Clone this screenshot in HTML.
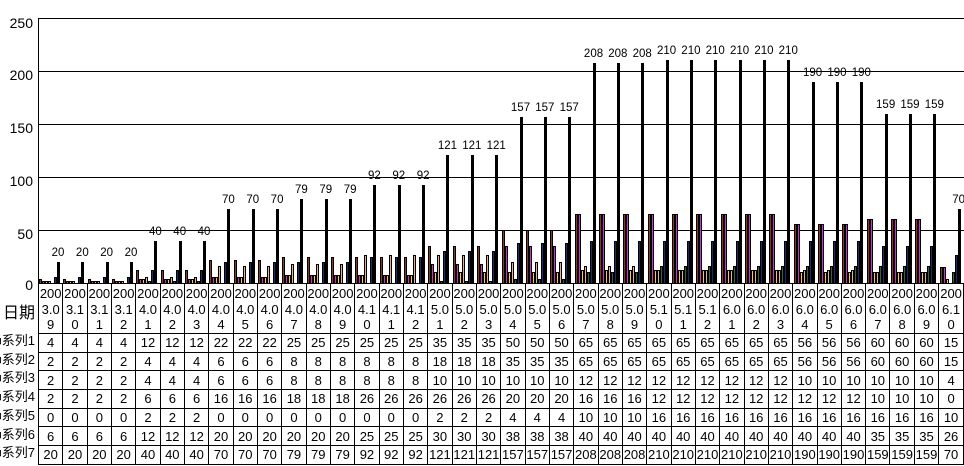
<!DOCTYPE html>
<html><head><meta charset="utf-8"><style>
body{margin:0;width:964px;height:466px;overflow:hidden;background:#fff;font-family:"Liberation Sans","Noto Sans CJK SC",sans-serif;position:relative}
.yl{position:absolute;left:0;width:33px;text-align:right;font-size:14px;line-height:14px}
.gl{position:absolute;left:38px;width:926px;height:1px;background:#000}
#plot{position:absolute;left:38px;top:18px;width:926px;height:265px;border-left:1px solid #000;box-sizing:border-box;display:grid;grid-template-columns:repeat(38,1fr)}
.c{position:relative;display:flex;align-items:flex-end;padding-left:0}
.c i{display:block;flex:0 0 3px;width:3px;box-sizing:border-box;border:1px solid #000;border-bottom:none;height:calc(var(--v)*1.06px)}
.c i.z{border:none}
.a{background:#8b3a22}.b{background:#cc33cc}.d{background:#ffcc33}.e{background:#e6b482}.f{background:#336633}.h{background:#1f2a6b}.g{background:#000}
.c span{position:absolute;left:6px;width:26px;text-align:center;font-size:11.5px;bottom:calc(var(--v)*1.06px + 3px)}
table{position:absolute;left:38px;top:283px;width:926px;border-collapse:collapse;table-layout:fixed;font-size:13px}
td{border:1px solid #000;text-align:center;padding:0;height:17.7px;line-height:17px;overflow:hidden;white-space:nowrap}
tr.hd td{height:47px;line-height:15.5px;vertical-align:top;padding-top:2px}
.lb{position:absolute;left:0;width:37px;overflow:hidden;font-size:13px;white-space:nowrap}
.lb div{position:absolute;right:2px}
</style></head><body>
<div class="yl" style="top:16px">250</div>
<div class="yl" style="top:68px">200</div>
<div class="yl" style="top:121px">150</div>
<div class="yl" style="top:174px">100</div>
<div class="yl" style="top:227px">50</div>
<div class="yl" style="top:278px">0</div>
<div class="gl" style="top:18px"></div>
<div class="gl" style="top:71px"></div>
<div class="gl" style="top:124px"></div>
<div class="gl" style="top:177px"></div>
<div class="gl" style="top:230px"></div>
<div id="plot">
<div class="c"><i class="a" style="--v:4"></i><i class="b" style="--v:2"></i><i class="d" style="--v:2"></i><i class="e" style="--v:2"></i><i class="f z" style="--v:0"></i><i class="h" style="--v:6"></i><i class="g" style="--v:20"></i><span style="--v:20">20</span></div>
<div class="c"><i class="a" style="--v:4"></i><i class="b" style="--v:2"></i><i class="d" style="--v:2"></i><i class="e" style="--v:2"></i><i class="f z" style="--v:0"></i><i class="h" style="--v:6"></i><i class="g" style="--v:20"></i><span style="--v:20">20</span></div>
<div class="c"><i class="a" style="--v:4"></i><i class="b" style="--v:2"></i><i class="d" style="--v:2"></i><i class="e" style="--v:2"></i><i class="f z" style="--v:0"></i><i class="h" style="--v:6"></i><i class="g" style="--v:20"></i><span style="--v:20">20</span></div>
<div class="c"><i class="a" style="--v:4"></i><i class="b" style="--v:2"></i><i class="d" style="--v:2"></i><i class="e" style="--v:2"></i><i class="f z" style="--v:0"></i><i class="h" style="--v:6"></i><i class="g" style="--v:20"></i><span style="--v:20">20</span></div>
<div class="c"><i class="a" style="--v:12"></i><i class="b" style="--v:4"></i><i class="d" style="--v:4"></i><i class="e" style="--v:6"></i><i class="f" style="--v:2"></i><i class="h" style="--v:12"></i><i class="g" style="--v:40"></i><span style="--v:40">40</span></div>
<div class="c"><i class="a" style="--v:12"></i><i class="b" style="--v:4"></i><i class="d" style="--v:4"></i><i class="e" style="--v:6"></i><i class="f" style="--v:2"></i><i class="h" style="--v:12"></i><i class="g" style="--v:40"></i><span style="--v:40">40</span></div>
<div class="c"><i class="a" style="--v:12"></i><i class="b" style="--v:4"></i><i class="d" style="--v:4"></i><i class="e" style="--v:6"></i><i class="f" style="--v:2"></i><i class="h" style="--v:12"></i><i class="g" style="--v:40"></i><span style="--v:40">40</span></div>
<div class="c"><i class="a" style="--v:22"></i><i class="b" style="--v:6"></i><i class="d" style="--v:6"></i><i class="e" style="--v:16"></i><i class="f z" style="--v:0"></i><i class="h" style="--v:20"></i><i class="g" style="--v:70"></i><span style="--v:70">70</span></div>
<div class="c"><i class="a" style="--v:22"></i><i class="b" style="--v:6"></i><i class="d" style="--v:6"></i><i class="e" style="--v:16"></i><i class="f z" style="--v:0"></i><i class="h" style="--v:20"></i><i class="g" style="--v:70"></i><span style="--v:70">70</span></div>
<div class="c"><i class="a" style="--v:22"></i><i class="b" style="--v:6"></i><i class="d" style="--v:6"></i><i class="e" style="--v:16"></i><i class="f z" style="--v:0"></i><i class="h" style="--v:20"></i><i class="g" style="--v:70"></i><span style="--v:70">70</span></div>
<div class="c"><i class="a" style="--v:25"></i><i class="b" style="--v:8"></i><i class="d" style="--v:8"></i><i class="e" style="--v:18"></i><i class="f z" style="--v:0"></i><i class="h" style="--v:20"></i><i class="g" style="--v:79"></i><span style="--v:79">79</span></div>
<div class="c"><i class="a" style="--v:25"></i><i class="b" style="--v:8"></i><i class="d" style="--v:8"></i><i class="e" style="--v:18"></i><i class="f z" style="--v:0"></i><i class="h" style="--v:20"></i><i class="g" style="--v:79"></i><span style="--v:79">79</span></div>
<div class="c"><i class="a" style="--v:25"></i><i class="b" style="--v:8"></i><i class="d" style="--v:8"></i><i class="e" style="--v:18"></i><i class="f z" style="--v:0"></i><i class="h" style="--v:20"></i><i class="g" style="--v:79"></i><span style="--v:79">79</span></div>
<div class="c"><i class="a" style="--v:25"></i><i class="b" style="--v:8"></i><i class="d" style="--v:8"></i><i class="e" style="--v:26"></i><i class="f z" style="--v:0"></i><i class="h" style="--v:25"></i><i class="g" style="--v:92"></i><span style="--v:92">92</span></div>
<div class="c"><i class="a" style="--v:25"></i><i class="b" style="--v:8"></i><i class="d" style="--v:8"></i><i class="e" style="--v:26"></i><i class="f z" style="--v:0"></i><i class="h" style="--v:25"></i><i class="g" style="--v:92"></i><span style="--v:92">92</span></div>
<div class="c"><i class="a" style="--v:25"></i><i class="b" style="--v:8"></i><i class="d" style="--v:8"></i><i class="e" style="--v:26"></i><i class="f z" style="--v:0"></i><i class="h" style="--v:25"></i><i class="g" style="--v:92"></i><span style="--v:92">92</span></div>
<div class="c"><i class="a" style="--v:35"></i><i class="b" style="--v:18"></i><i class="d" style="--v:10"></i><i class="e" style="--v:26"></i><i class="f" style="--v:2"></i><i class="h" style="--v:30"></i><i class="g" style="--v:121"></i><span style="--v:121">121</span></div>
<div class="c"><i class="a" style="--v:35"></i><i class="b" style="--v:18"></i><i class="d" style="--v:10"></i><i class="e" style="--v:26"></i><i class="f" style="--v:2"></i><i class="h" style="--v:30"></i><i class="g" style="--v:121"></i><span style="--v:121">121</span></div>
<div class="c"><i class="a" style="--v:35"></i><i class="b" style="--v:18"></i><i class="d" style="--v:10"></i><i class="e" style="--v:26"></i><i class="f" style="--v:2"></i><i class="h" style="--v:30"></i><i class="g" style="--v:121"></i><span style="--v:121">121</span></div>
<div class="c"><i class="a" style="--v:50"></i><i class="b" style="--v:35"></i><i class="d" style="--v:10"></i><i class="e" style="--v:20"></i><i class="f" style="--v:4"></i><i class="h" style="--v:38"></i><i class="g" style="--v:157"></i><span style="--v:157">157</span></div>
<div class="c"><i class="a" style="--v:50"></i><i class="b" style="--v:35"></i><i class="d" style="--v:10"></i><i class="e" style="--v:20"></i><i class="f" style="--v:4"></i><i class="h" style="--v:38"></i><i class="g" style="--v:157"></i><span style="--v:157">157</span></div>
<div class="c"><i class="a" style="--v:50"></i><i class="b" style="--v:35"></i><i class="d" style="--v:10"></i><i class="e" style="--v:20"></i><i class="f" style="--v:4"></i><i class="h" style="--v:38"></i><i class="g" style="--v:157"></i><span style="--v:157">157</span></div>
<div class="c"><i class="a" style="--v:65"></i><i class="b" style="--v:65"></i><i class="d" style="--v:12"></i><i class="e" style="--v:16"></i><i class="f" style="--v:10"></i><i class="h" style="--v:40"></i><i class="g" style="--v:208"></i><span style="--v:208">208</span></div>
<div class="c"><i class="a" style="--v:65"></i><i class="b" style="--v:65"></i><i class="d" style="--v:12"></i><i class="e" style="--v:16"></i><i class="f" style="--v:10"></i><i class="h" style="--v:40"></i><i class="g" style="--v:208"></i><span style="--v:208">208</span></div>
<div class="c"><i class="a" style="--v:65"></i><i class="b" style="--v:65"></i><i class="d" style="--v:12"></i><i class="e" style="--v:16"></i><i class="f" style="--v:10"></i><i class="h" style="--v:40"></i><i class="g" style="--v:208"></i><span style="--v:208">208</span></div>
<div class="c"><i class="a" style="--v:65"></i><i class="b" style="--v:65"></i><i class="d" style="--v:12"></i><i class="e" style="--v:12"></i><i class="f" style="--v:16"></i><i class="h" style="--v:40"></i><i class="g" style="--v:210"></i><span style="--v:210">210</span></div>
<div class="c"><i class="a" style="--v:65"></i><i class="b" style="--v:65"></i><i class="d" style="--v:12"></i><i class="e" style="--v:12"></i><i class="f" style="--v:16"></i><i class="h" style="--v:40"></i><i class="g" style="--v:210"></i><span style="--v:210">210</span></div>
<div class="c"><i class="a" style="--v:65"></i><i class="b" style="--v:65"></i><i class="d" style="--v:12"></i><i class="e" style="--v:12"></i><i class="f" style="--v:16"></i><i class="h" style="--v:40"></i><i class="g" style="--v:210"></i><span style="--v:210">210</span></div>
<div class="c"><i class="a" style="--v:65"></i><i class="b" style="--v:65"></i><i class="d" style="--v:12"></i><i class="e" style="--v:12"></i><i class="f" style="--v:16"></i><i class="h" style="--v:40"></i><i class="g" style="--v:210"></i><span style="--v:210">210</span></div>
<div class="c"><i class="a" style="--v:65"></i><i class="b" style="--v:65"></i><i class="d" style="--v:12"></i><i class="e" style="--v:12"></i><i class="f" style="--v:16"></i><i class="h" style="--v:40"></i><i class="g" style="--v:210"></i><span style="--v:210">210</span></div>
<div class="c"><i class="a" style="--v:65"></i><i class="b" style="--v:65"></i><i class="d" style="--v:12"></i><i class="e" style="--v:12"></i><i class="f" style="--v:16"></i><i class="h" style="--v:40"></i><i class="g" style="--v:210"></i><span style="--v:210">210</span></div>
<div class="c"><i class="a" style="--v:56"></i><i class="b" style="--v:56"></i><i class="d" style="--v:10"></i><i class="e" style="--v:12"></i><i class="f" style="--v:16"></i><i class="h" style="--v:40"></i><i class="g" style="--v:190"></i><span style="--v:190">190</span></div>
<div class="c"><i class="a" style="--v:56"></i><i class="b" style="--v:56"></i><i class="d" style="--v:10"></i><i class="e" style="--v:12"></i><i class="f" style="--v:16"></i><i class="h" style="--v:40"></i><i class="g" style="--v:190"></i><span style="--v:190">190</span></div>
<div class="c"><i class="a" style="--v:56"></i><i class="b" style="--v:56"></i><i class="d" style="--v:10"></i><i class="e" style="--v:12"></i><i class="f" style="--v:16"></i><i class="h" style="--v:40"></i><i class="g" style="--v:190"></i><span style="--v:190">190</span></div>
<div class="c"><i class="a" style="--v:60"></i><i class="b" style="--v:60"></i><i class="d" style="--v:10"></i><i class="e" style="--v:10"></i><i class="f" style="--v:16"></i><i class="h" style="--v:35"></i><i class="g" style="--v:159"></i><span style="--v:159">159</span></div>
<div class="c"><i class="a" style="--v:60"></i><i class="b" style="--v:60"></i><i class="d" style="--v:10"></i><i class="e" style="--v:10"></i><i class="f" style="--v:16"></i><i class="h" style="--v:35"></i><i class="g" style="--v:159"></i><span style="--v:159">159</span></div>
<div class="c"><i class="a" style="--v:60"></i><i class="b" style="--v:60"></i><i class="d" style="--v:10"></i><i class="e" style="--v:10"></i><i class="f" style="--v:16"></i><i class="h" style="--v:35"></i><i class="g" style="--v:159"></i><span style="--v:159">159</span></div>
<div class="c"><i class="a" style="--v:15"></i><i class="b" style="--v:15"></i><i class="d" style="--v:4"></i><i class="e z" style="--v:0"></i><i class="f" style="--v:10"></i><i class="h" style="--v:26"></i><i class="g" style="--v:70"></i><span style="--v:70">70</span></div>
</div>
<div class="lb" style="top:283px;height:48px"><div style="top:16px;font-size:16px">日期</div></div>
<div class="lb" style="top:331px;height:131px;line-height:18.7px"><div style="top:1px">■系列1<br>■系列2<br>■系列3<br>■系列4<br>■系列5<br>■系列6<br>■系列7</div></div>
<table>
<tr class="hd"><td>200<br>3.0<br>9</td><td>200<br>3.1<br>0</td><td>200<br>3.1<br>1</td><td>200<br>3.1<br>2</td><td>200<br>4.0<br>1</td><td>200<br>4.0<br>2</td><td>200<br>4.0<br>3</td><td>200<br>4.0<br>4</td><td>200<br>4.0<br>5</td><td>200<br>4.0<br>6</td><td>200<br>4.0<br>7</td><td>200<br>4.0<br>8</td><td>200<br>4.0<br>9</td><td>200<br>4.1<br>0</td><td>200<br>4.1<br>1</td><td>200<br>4.1<br>2</td><td>200<br>5.0<br>1</td><td>200<br>5.0<br>2</td><td>200<br>5.0<br>3</td><td>200<br>5.0<br>4</td><td>200<br>5.0<br>5</td><td>200<br>5.0<br>6</td><td>200<br>5.0<br>7</td><td>200<br>5.0<br>8</td><td>200<br>5.0<br>9</td><td>200<br>5.1<br>0</td><td>200<br>5.1<br>1</td><td>200<br>5.1<br>2</td><td>200<br>6.0<br>1</td><td>200<br>6.0<br>2</td><td>200<br>6.0<br>3</td><td>200<br>6.0<br>4</td><td>200<br>6.0<br>5</td><td>200<br>6.0<br>6</td><td>200<br>6.0<br>7</td><td>200<br>6.0<br>8</td><td>200<br>6.0<br>9</td><td>200<br>6.1<br>0</td></tr>
<tr><td>4</td><td>4</td><td>4</td><td>4</td><td>12</td><td>12</td><td>12</td><td>22</td><td>22</td><td>22</td><td>25</td><td>25</td><td>25</td><td>25</td><td>25</td><td>25</td><td>35</td><td>35</td><td>35</td><td>50</td><td>50</td><td>50</td><td>65</td><td>65</td><td>65</td><td>65</td><td>65</td><td>65</td><td>65</td><td>65</td><td>65</td><td>56</td><td>56</td><td>56</td><td>60</td><td>60</td><td>60</td><td>15</td></tr>
<tr><td>2</td><td>2</td><td>2</td><td>2</td><td>4</td><td>4</td><td>4</td><td>6</td><td>6</td><td>6</td><td>8</td><td>8</td><td>8</td><td>8</td><td>8</td><td>8</td><td>18</td><td>18</td><td>18</td><td>35</td><td>35</td><td>35</td><td>65</td><td>65</td><td>65</td><td>65</td><td>65</td><td>65</td><td>65</td><td>65</td><td>65</td><td>56</td><td>56</td><td>56</td><td>60</td><td>60</td><td>60</td><td>15</td></tr>
<tr><td>2</td><td>2</td><td>2</td><td>2</td><td>4</td><td>4</td><td>4</td><td>6</td><td>6</td><td>6</td><td>8</td><td>8</td><td>8</td><td>8</td><td>8</td><td>8</td><td>10</td><td>10</td><td>10</td><td>10</td><td>10</td><td>10</td><td>12</td><td>12</td><td>12</td><td>12</td><td>12</td><td>12</td><td>12</td><td>12</td><td>12</td><td>10</td><td>10</td><td>10</td><td>10</td><td>10</td><td>10</td><td>4</td></tr>
<tr><td>2</td><td>2</td><td>2</td><td>2</td><td>6</td><td>6</td><td>6</td><td>16</td><td>16</td><td>16</td><td>18</td><td>18</td><td>18</td><td>26</td><td>26</td><td>26</td><td>26</td><td>26</td><td>26</td><td>20</td><td>20</td><td>20</td><td>16</td><td>16</td><td>16</td><td>12</td><td>12</td><td>12</td><td>12</td><td>12</td><td>12</td><td>12</td><td>12</td><td>12</td><td>10</td><td>10</td><td>10</td><td>0</td></tr>
<tr><td>0</td><td>0</td><td>0</td><td>0</td><td>2</td><td>2</td><td>2</td><td>0</td><td>0</td><td>0</td><td>0</td><td>0</td><td>0</td><td>0</td><td>0</td><td>0</td><td>2</td><td>2</td><td>2</td><td>4</td><td>4</td><td>4</td><td>10</td><td>10</td><td>10</td><td>16</td><td>16</td><td>16</td><td>16</td><td>16</td><td>16</td><td>16</td><td>16</td><td>16</td><td>16</td><td>16</td><td>16</td><td>10</td></tr>
<tr><td>6</td><td>6</td><td>6</td><td>6</td><td>12</td><td>12</td><td>12</td><td>20</td><td>20</td><td>20</td><td>20</td><td>20</td><td>20</td><td>25</td><td>25</td><td>25</td><td>30</td><td>30</td><td>30</td><td>38</td><td>38</td><td>38</td><td>40</td><td>40</td><td>40</td><td>40</td><td>40</td><td>40</td><td>40</td><td>40</td><td>40</td><td>40</td><td>40</td><td>40</td><td>35</td><td>35</td><td>35</td><td>26</td></tr>
<tr><td>20</td><td>20</td><td>20</td><td>20</td><td>40</td><td>40</td><td>40</td><td>70</td><td>70</td><td>70</td><td>79</td><td>79</td><td>79</td><td>92</td><td>92</td><td>92</td><td>121</td><td>121</td><td>121</td><td>157</td><td>157</td><td>157</td><td>208</td><td>208</td><td>208</td><td>210</td><td>210</td><td>210</td><td>210</td><td>210</td><td>210</td><td>190</td><td>190</td><td>190</td><td>159</td><td>159</td><td>159</td><td>70</td></tr>
</table>
</body></html>
